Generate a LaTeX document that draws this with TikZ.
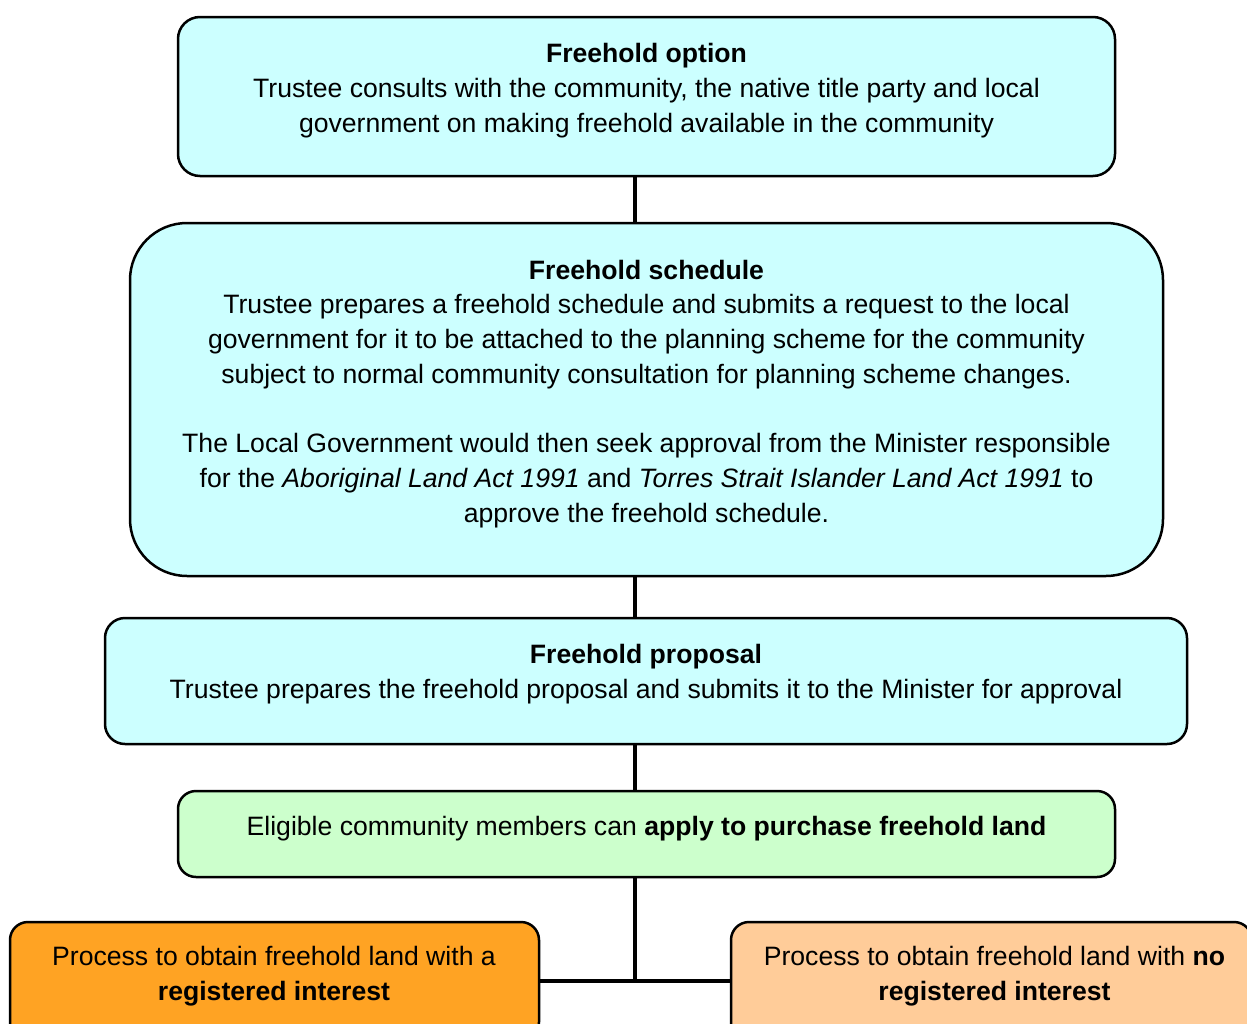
\documentclass[tikz,border=0pt]{standalone}
\usepackage{fontspec}
\setmainfont{Liberation Sans}
\definecolor{cyanbox}{HTML}{CCFFFF}
\definecolor{greenbox}{HTML}{CCFFCC}
\definecolor{orangebox}{RGB}{255,163,35}
\definecolor{peachbox}{HTML}{FFCC99}
\begin{document}
\begin{tikzpicture}[x=1pt,y=-1pt,
  box/.style={draw=black,line width=2.5pt,inner sep=0pt,outer sep=0pt},
  txt/.style={align=center,inner sep=0pt,font=\fontsize{26.6}{34.7}\selectfont,anchor=base},
  conn/.style={line width=4pt}]
\useasboundingbox (0,0) rectangle (1247,1023);
\coordinate (vx) at (635,0);
% boxes
\node[box,rounded corners=22pt,fill=cyanbox,minimum width=937pt,minimum height=159pt] (b1) at (646.5,96.5) {};
\node[box,rounded corners=57pt,fill=cyanbox,minimum width=1033pt,minimum height=353pt] (b2) at (646.5,399.5) {};
\node[box,rounded corners=20pt,fill=cyanbox,minimum width=1082pt,minimum height=126pt] (b3) at (646,681) {};
\node[box,rounded corners=18pt,fill=greenbox,minimum width=937pt,minimum height=86pt] (b4) at (646.5,834) {};
\node[box,rounded corners=18pt,fill=orangebox,minimum width=529pt,minimum height=118pt] (b5) at (274.5,981) {};
\node[box,rounded corners=18pt,fill=peachbox,minimum width=521pt,minimum height=118pt] (b6) at (991.5,981) {};
% connectors
\draw[conn] (b1.south -| vx) -- (b2.north -| vx);
\draw[conn] (b2.south -| vx) -- (b3.north -| vx);
\draw[conn] (b3.south -| vx) -- (b4.north -| vx);
\draw[conn] (b4.south -| vx) -- (vx |- b5.east);
\draw[conn] (b5.east) -- (b6.west);
% texts (anchored at the baseline of their last line)
\node[txt] (t1) at (646.5,132) {\textbf{Freehold option}\\Trustee consults with the community, the native title party and local\\government on making freehold available in the community};
\node[txt] (t2) at (646.5,522) {\textbf{Freehold schedule}\\Trustee prepares a freehold schedule and submits a request to the local\\government for it to be attached to the planning scheme for the community\\subject to normal community consultation for planning scheme changes.\\[34.7pt]The Local Government would then seek approval from the Minister responsible\\for the \textit{Aboriginal Land Act 1991} and \textit{Torres Strait Islander Land Act 1991} to\\approve the freehold schedule.};
\node[txt] (t3) at (646,698) {\textbf{Freehold proposal}\\Trustee prepares the freehold proposal and submits it to the Minister for approval};
\node[txt] (t4) at (646.5,835) {Eligible community members can \textbf{apply to purchase freehold land}};
\node[txt] (t5) at (274,1000) {Process to obtain freehold land with a\\\textbf{registered interest}};
\node[txt] (t6) at (994.5,1000) {Process to obtain freehold land with \textbf{no}\\\textbf{registered interest}};
\end{tikzpicture}
\end{document}
